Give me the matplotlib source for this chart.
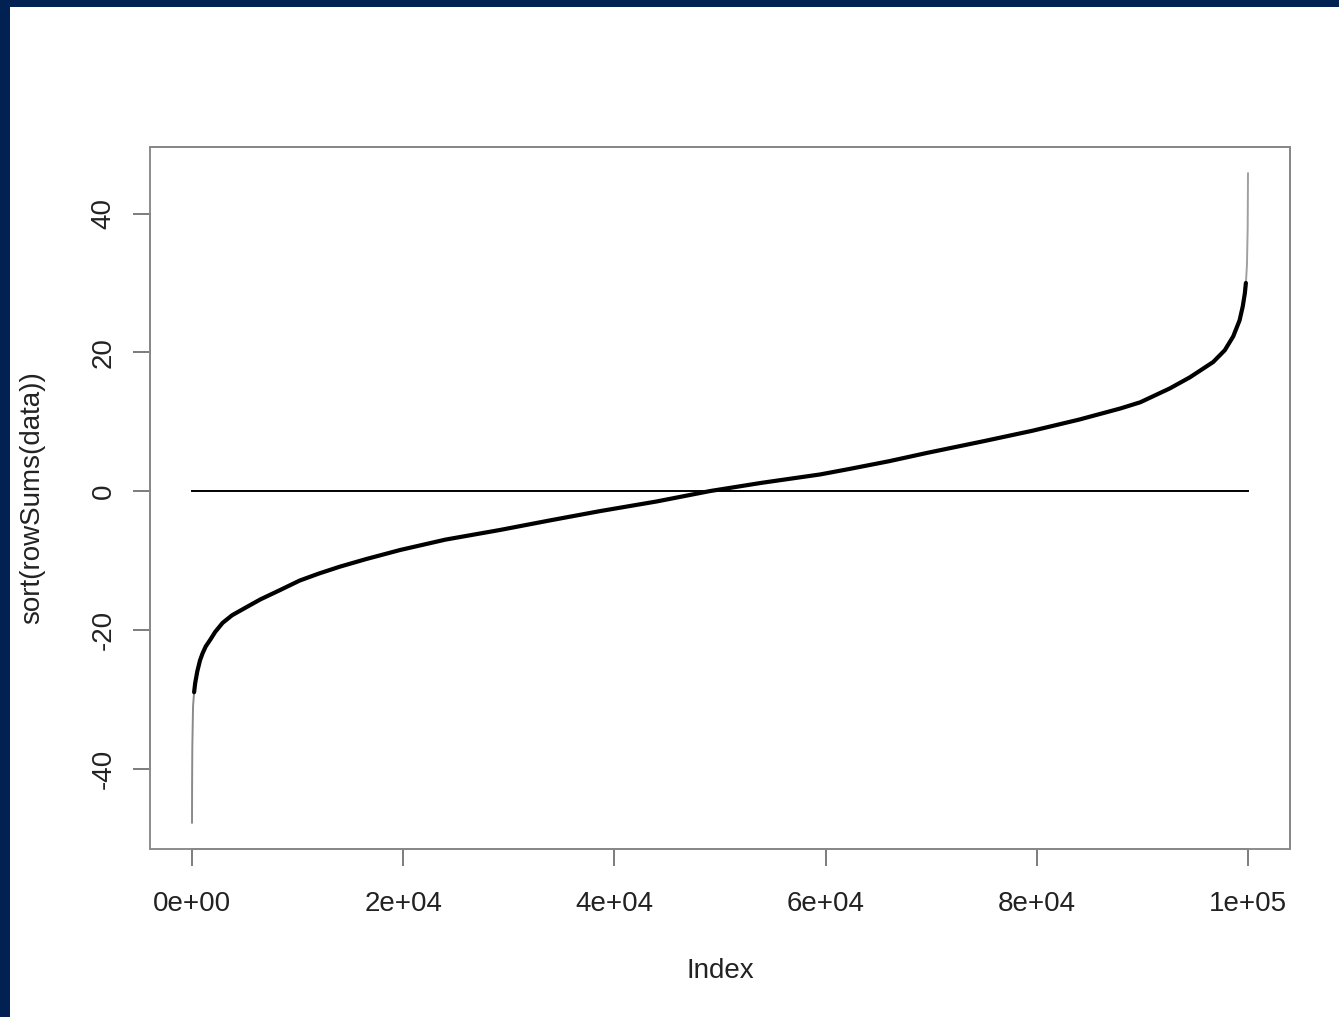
import matplotlib
matplotlib.use("Agg")
import matplotlib.pyplot as plt
from matplotlib.patches import Rectangle

plt.rcParams['font.family'] = ['Liberation Sans', 'DejaVu Sans']

# values: index vs sorted row sum
idx_core = [200, 300, 500, 760, 1000, 1300, 1700, 2200, 2900, 3800, 5200,
            6500, 8300, 10200, 12000, 14000, 16500, 19700, 24000, 29200,
            34000, 38600, 44000, 49050, 54000, 59500, 62300, 66000, 69600,
            75000, 79600, 84000, 87900, 89800, 92600, 94500, 96700, 97800,
            98600, 99200, 99500, 99700, 99800]
val_core = [-29.0, -27.7, -26.0, -24.4, -23.4, -22.4, -21.5, -20.3, -19.0,
            -17.9, -16.7, -15.6, -14.3, -12.9, -11.9, -10.9, -9.8, -8.5,
            -7.0, -5.6, -4.2, -2.9, -1.5, 0.0, 1.2, 2.4, 3.2, 4.3, 5.5,
            7.2, 8.7, 10.3, 11.9, 12.8, 14.8, 16.4, 18.6, 20.3, 22.3, 24.6,
            26.6, 28.5, 30.0]
idx_low = [0, 10, 30, 100, 200]
val_low = [-47.8, -42.0, -37.0, -31.0, -29.0]
idx_high = [99800, 99900, 99970, 100000]
val_high = [30.0, 32.6, 38.0, 45.8]

xticks = [0, 20000, 40000, 60000, 80000, 100000]
xlabels = ['0e+00', '2e+04', '4e+04', '6e+04', '8e+04', '1e+05']
yticks = [-40, -20, 0, 20, 40]

fig = plt.figure(figsize=(13.39, 10.17), dpi=100)
fig.patch.set_facecolor('#002152')
# white page inside the navy border
fig.add_artist(Rectangle((10/1339, 0), 1, 1 - 7/1017, transform=fig.transFigure,
                         facecolor='white', edgecolor='none', zorder=0))

ax = fig.add_axes([150/1339, 1 - 849/1017, 1140/1339, 702/1017])
ax.set_facecolor('none')

ax.plot(idx_core, val_core, color='black', lw=3.0, solid_capstyle='round',
        solid_joinstyle='round', zorder=3)
ax.plot(idx_low, val_low, color='#8a8a8a', lw=1.4, zorder=2)
ax.plot(idx_high, val_high, color='#a0a0a0', lw=1.4, zorder=2)
ax.plot([0, 100000], [0, 0], color='black', lw=1.4, zorder=2)

ax.set_xlim(-3977, 103977)
ax.set_ylim(-51.6, 49.6)

for s in ax.spines.values():
    s.set_color('#888888')
    s.set_linewidth(1.4)
ax.spines['bottom'].set_bounds(0, 100000)
ax.spines['left'].set_bounds(-40, 40)
# full frame box
ax.add_patch(Rectangle((0, 0), 1, 1, transform=ax.transAxes, fill=False,
                       edgecolor='#8c8c8c', lw=1.4, zorder=1, clip_on=False))

ax.set_xticks(xticks)
ax.set_xticklabels(xlabels)
ax.set_yticks(yticks)
ax.set_yticklabels([str(v) for v in yticks], rotation=90, va='center')
ax.tick_params(axis='both', length=12, width=1.2, color='#666666',
               labelsize=20, labelcolor='#222222')
ax.tick_params(axis='x', pad=18)
ax.tick_params(axis='y', pad=12)

ax.set_xlabel('Index', fontsize=20, color='#222222', labelpad=30)
ax.set_ylabel('sort(rowSums(data))', fontsize=20, color='#222222', labelpad=33)

fig.savefig('out.png', dpi=100)
